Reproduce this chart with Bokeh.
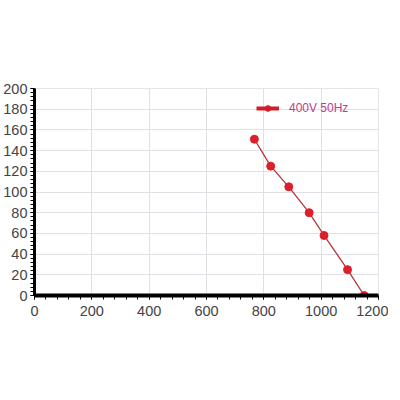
from bokeh.plotting import figure
from bokeh.embed import file_html
from bokeh.resources import INLINE
from bokeh.models import Range1d, FixedTicker, Legend, LegendItem

flow = [767, 824, 887, 958, 1010, 1092, 1150]
pressure = [151, 125, 105, 80, 58, 25, 0]
series_name = "400V 50Hz"
x_ticks = [0, 200, 400, 600, 800, 1000, 1200]
y_ticks = [0, 20, 40, 60, 80, 100, 120, 140, 160, 180, 200]
x_minor = list(range(0, 1201, 40))
y_minor = list(range(0, 201, 4))

p = figure(width=388, height=340, output_backend="svg", toolbar_location=None,
           x_range=Range1d(0, 1200), y_range=Range1d(0, 200))
p.min_border_left = 31
p.min_border_right = 10
p.min_border_top = 88
p.min_border_bottom = 45
p.outline_line_color = "#e4e4ea"

ln = p.line(flow, pressure, line_color="#b8323c", line_width=1.3)
sc = p.scatter(flow, pressure, size=8, fill_color="#dc1f2b", line_color="#dc1f2b")

for ax, ticks, minor in ((p.xaxis[0], x_ticks, x_minor), (p.yaxis[0], y_ticks, y_minor)):
    ax.ticker = FixedTicker(ticks=ticks, minor_ticks=minor)
    ax.axis_line_color = "black"
    ax.major_tick_line_color = "black"
    ax.minor_tick_line_color = "black"
    ax.major_tick_in = 0
    ax.major_tick_out = 4
    ax.minor_tick_in = 0
    ax.minor_tick_out = 4
    ax.major_label_text_font = "Liberation Sans"
    ax.major_label_text_font_size = "14.5px"
    ax.major_label_text_color = "#444444"
    ax.major_label_standoff = 3
p.xaxis.axis_line_width = 4
p.yaxis.axis_line_width = 3
p.xaxis.major_label_standoff = 6

p.xgrid.ticker = FixedTicker(ticks=x_ticks)
p.ygrid.ticker = FixedTicker(ticks=y_ticks)
p.grid.grid_line_color = "#e0e0e6"
p.grid.grid_line_width = 1

# swatches used only for the legend
swatch = p.line([float("nan")], [float("nan")], line_color="#d01d28", line_width=4)
swatch_dot = p.scatter([float("nan")], [float("nan")], size=5,
                       fill_color="#d01d28", line_color="#d01d28")

legend = Legend(items=[LegendItem(label=series_name, renderers=[swatch, swatch_dot])],
                location=(220, 178), border_line_alpha=0, background_fill_alpha=0,
                label_text_color="#c03a8a", label_text_font="Liberation Sans",
                label_text_font_size="12px", glyph_width=23, glyph_height=14,
                margin=0, padding=2, label_standoff=10)
p.add_layout(legend)

open("out.html", "w").write(file_html(p, INLINE))
